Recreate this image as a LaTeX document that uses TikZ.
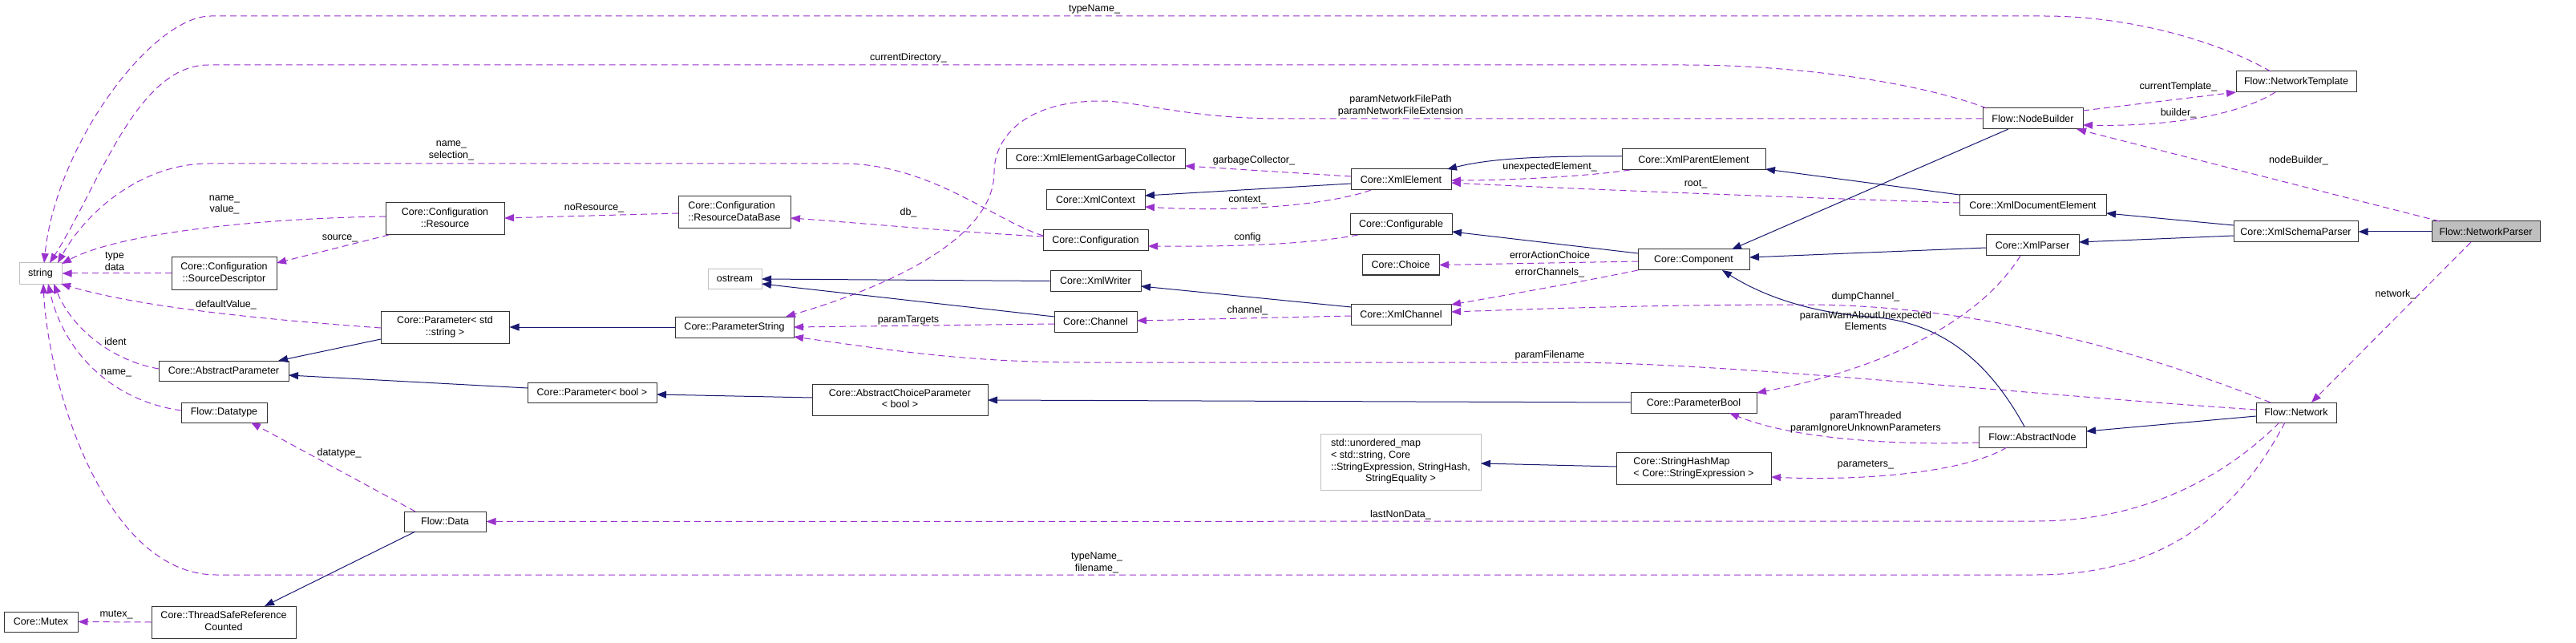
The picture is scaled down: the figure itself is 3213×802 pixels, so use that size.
\documentclass[tikz,border=0pt]{standalone}
\usepackage{fontspec}
\setmainfont{Liberation Sans}
\usetikzlibrary{arrows.meta,calc}
\definecolor{dorch}{HTML}{9A32CD}
\definecolor{mblue}{HTML}{191970}
\definecolor{extgray}{HTML}{BFBFBF}
\newcommand{\fsz}{\fontsize{12.5}{14.7}\selectfont}
\newcommand{\twol}[2]{\begin{tabular}{@{}l@{}}#1\\\multicolumn{1}{@{}c@{}}{#2}\end{tabular}}
\newcommand{\fourl}[4]{\begin{tabular}{@{}l@{}}#1\\#2\\#3\\\multicolumn{1}{@{}c@{}}{#4}\end{tabular}}
\begin{document}
\begin{tikzpicture}[x=1pt,y=-1pt,
  cls/.style={draw=black!80, line width=1pt, fill=white, inner sep=0pt, font=\fsz, text=black},
  ext/.style={cls, draw=extgray},
  lbl/.style={font=\fsz, align=center, inner sep=0pt, text=black},
  dep/.style={draw=dorch, line width=1pt, dash pattern=on 8pt off 5pt, -{Triangle[length=12pt,width=9pt]}},
  inh/.style={draw=mblue, line width=1pt, -{Triangle[length=12pt,width=9pt]}}]
\path[use as bounding box] (0,0) rectangle (3213,802);

% nodes
\node[ext, minimum width=53pt, minimum height=26pt] (string) at (50.5,341) {string};
\node[cls, minimum width=131pt, minimum height=40pt] (srcdesc) at (279.5,341) {\twol{Core::Configuration}{::SourceDescriptor}};
\node[cls, minimum width=148pt, minimum height=40pt] (resource) at (555,273) {\twol{Core::Configuration}{::Resource}};
\node[cls, minimum width=140pt, minimum height=40pt] (resdb) at (916,265) {\twol{Core::Configuration}{::ResourceDataBase}};
\node[ext, minimum width=67pt, minimum height=25pt] (ostream) at (916.5,348) {ostream};
\node[cls, minimum width=160pt, minimum height=40pt] (pstd) at (555,408) {\twol{Core::Parameter< std}{::string >}};
\node[cls, minimum width=148pt, minimum height=26pt] (pstring) at (916,408) {Core::ParameterString};
\node[cls, minimum width=162pt, minimum height=25pt] (absparam) at (279,462.5) {Core::AbstractParameter};
\node[cls, minimum width=161pt, minimum height=25pt] (pbooltpl) at (738.5,489.5) {Core::Parameter< bool >};
\node[cls, minimum width=219pt, minimum height=39pt] (abschoice) at (1122.5,498.5) {\twol{Core::AbstractChoiceParameter}{< bool >}};
\node[cls, minimum width=107pt, minimum height=25pt] (datatype) at (279.5,514.5) {Flow::Datatype};
\node[cls, minimum width=102pt, minimum height=25pt] (data) at (555,650.5) {Flow::Data};
\node[cls, minimum width=180pt, minimum height=40pt] (tsrc) at (279,776) {\twol{Core::ThreadSafeReference}{Counted}};
\node[cls, minimum width=92pt, minimum height=25pt] (mutex) at (51,775.5) {Core::Mutex};
\node[cls, minimum width=223pt, minimum height=25pt] (xgc) at (1366.5,198.5) {Core::XmlElementGarbageCollector};
\node[cls, minimum width=123pt, minimum height=25pt] (xctx) at (1366.5,249.5) {Core::XmlContext};
\node[cls, minimum width=131pt, minimum height=26pt] (config) at (1366.5,300) {Core::Configuration};
\node[cls, minimum width=113pt, minimum height=25pt] (xwriter) at (1366.5,350.5) {Core::XmlWriter};
\node[cls, minimum width=103pt, minimum height=26pt] (channel) at (1366.5,401) {Core::Channel};
\node[cls, minimum width=125pt, minimum height=26pt] (xelem) at (1747.5,224) {Core::XmlElement};
\node[cls, minimum width=127pt, minimum height=26pt] (configurable) at (1747.5,280) {Core::Configurable};
\node[cls, minimum width=96pt, minimum height=25pt] (choice) at (1747,330.5) {Core::Choice};
\node[cls, minimum width=125pt, minimum height=26pt] (xchannel) at (1747.5,392) {Core::XmlChannel};
\node[cls, minimum width=179pt, minimum height=26pt] (xparent) at (2112.5,199) {Core::XmlParentElement};
\node[cls, minimum width=139pt, minimum height=26pt] (component) at (2112.5,324) {Core::Component};
\node[cls, minimum width=157pt, minimum height=26pt] (parambool) at (2112.5,502) {Core::ParameterBool};
\node[ext, minimum width=200pt, minimum height=70pt] (umap) at (1747,576) {\fourl{std::unordered\_map}{< std::string, Core}{::StringExpression, StringHash,}{StringEquality >}};
\node[cls, minimum width=193pt, minimum height=40pt] (shm) at (2112.5,584) {\twol{Core::StringHashMap}{< Core::StringExpression >}};
\node[cls, minimum width=125pt, minimum height=26pt] (nodebuilder) at (2535.5,148) {Flow::NodeBuilder};
\node[cls, minimum width=183pt, minimum height=26pt] (xdoc) at (2535.5,256) {Core::XmlDocumentElement};
\node[cls, minimum width=116pt, minimum height=26pt] (xparser) at (2535,306) {Core::XmlParser};
\node[cls, minimum width=134pt, minimum height=26pt] (absnode) at (2535,545) {Flow::AbstractNode};
\node[cls, minimum width=150pt, minimum height=26pt] (ntemplate) at (2864,102) {Flow::NetworkTemplate};
\node[cls, minimum width=155pt, minimum height=26pt] (xschema) at (2863.5,289) {Core::XmlSchemaParser};
\node[cls, fill=extgray, minimum width=135pt, minimum height=26pt] (nparser) at (3100.5,289) {Flow::NetworkParser};
\node[cls, minimum width=100pt, minimum height=25pt] (network) at (2864,514.5) {Flow::Network};

% dependency edges
\draw[dep] ($(ntemplate)+(-32,-13)$) .. controls (2760,48) and (2650,20) .. (2550,20) -- (263,20) .. controls (190,20) and (70,180) .. ($(string)+(4.5,-13)$);
\draw[dep] ($(nodebuilder)+(-57.5,-13)$) .. controls (2400,105) and (2250,81) .. (2100,81) -- (260,81) .. controls (170,81) and (123,233) .. ($(string)+(11.5,-13)$);
\draw[dep] ($(config)+(-65.5,-6)$) .. controls (1240,275) and (1160,204) .. (1050,204) -- (260,204) .. controls (180,204) and (110,260) .. ($(string)+(21.5,-13)$);
\draw[dep] ($(resource)+(-74,-3)$) .. controls (330,272) and (150,290) .. ($(string)+(26.5,-12)$);
\draw[dep] ($(resource)+(-70,20)$) -- ($(srcdesc)+(65.5,-13)$);
\draw[dep] (srcdesc.west) -- (string.east);
\draw[dep] ($(pstd)+(-80,1)$) .. controls (350,400) and (180,385) .. ($(string)+(25.5,13)$);
\draw[dep] ($(absparam)+(-81,-2.5)$) .. controls (140,450) and (90,410) .. ($(string)+(16.5,13)$);
\draw[dep] ($(datatype)+(-53.5,-2.5)$) .. controls (140,500) and (80,440) .. ($(string)+(9.5,13)$);
\draw[dep] ($(network)+(-14,12.5)$) .. controls (2790,640) and (2700,717) .. (2540,717) -- (270,717) .. controls (130,717) and (60,480) .. ($(string)+(3.5,13)$);
\draw[dep] ($(resdb)+(-70,1)$) -- ($(resource)+(74,-1)$);
\draw[dep] ($(config)+(-65.5,-5)$) .. controls (1200,290) and (1060,277) .. ($(resdb)+(70,7)$);
\draw[dep] ($(configurable)+(-53.5,13)$) .. controls (1640,303) and (1560,308) .. ($(config)+(65.5,7)$);
\draw[dep] ($(xelem)+(-62.5,-4)$) -- ($(xgc)+(111.5,8.5)$);
\draw[dep] ($(xelem)+(-37.5,13)$) .. controls (1660,255) and (1550,265) .. ($(xctx)+(61.5,8.5)$);
\draw[dep] ($(xchannel)+(-62.5,2)$) -- ($(channel)+(51.5,-1)$);
\draw[dep] ($(channel)+(-51.5,3)$) -- ($(pstring)+(74,0)$);
\draw[dep] (nodebuilder.west) -- (1600,148) .. controls (1480,148) and (1420,126) .. (1373,126) .. controls (1280,126) and (1240,170) .. (1240,215) .. controls (1240,300) and (1100,360) .. ($(pstring)+(64,-13)$);
\draw[dep] ($(network)+(-50,-3.5)$) .. controls (2500,490) and (2150,452) .. (1950,452) -- (1350,452) .. controls (1200,452) and (1100,435) .. ($(pstring)+(74,12)$);
\draw[dep] ($(network)+(-32,-12.5)$) .. controls (2650,430) and (2450,380) .. (2250,380) .. controls (2050,380) and (1900,386) .. ($(xchannel)+(62.5,-3)$);
\draw[dep] ($(component)+(-69.5,13)$) .. controls (1980,350) and (1880,368) .. ($(xchannel)+(62.5,-12)$);
\draw[dep] ($(component)+(-69.5,2)$) -- ($(choice)+(48,0)$);
\draw[dep] ($(xparent)+(-79.5,13)$) .. controls (1980,220) and (1880,225) .. ($(xelem)+(62.5,1)$);
\draw[dep] ($(xdoc)+(-91.5,-3)$) .. controls (2200,245) and (1950,235) .. ($(xelem)+(62.5,4)$);
\draw[dep] ($(nodebuilder)+(62.5,-10)$) -- ($(ntemplate)+(-75,13)$);
\draw[dep] ($(ntemplate)+(-26,13)$) .. controls (2790,145) and (2700,158) .. ($(nodebuilder)+(62.5,8)$);
\draw[dep] ($(nparser)+(-57.5,-13)$) -- ($(nodebuilder)+(54.5,13)$);
\draw[dep] ($(nparser)+(-18.5,13)$) -- ($(network)+(19,-12.5)$);
\draw[dep] ($(xparser)+(-15,13)$) .. controls (2470,400) and (2350,460) .. ($(parambool)+(78.5,-12)$);
\draw[dep] ($(absnode)+(-67,7)$) .. controls (2350,556) and (2230,545) .. ($(parambool)+(44.5,13)$);
\draw[dep] ($(absnode)+(-32,13)$) .. controls (2450,590) and (2320,600) .. ($(shm)+(96.5,11)$);
\draw[dep] ($(network)+(-21,12.5)$) .. controls (2780,590) and (2680,650) .. (2540,650) -- (data.east);
\draw[dep] ($(data)+(-37,-12.5)$) -- ($(datatype)+(33.5,12.5)$);
\draw[dep] (tsrc.west) -- (mutex.east);

% inheritance edges
\draw[inh] ($(pstd)+(-80,15)$) -- ($(absparam)+(68,-12.5)$);
\draw[inh] ($(pbooltpl)+(-80.5,-5.5)$) -- ($(absparam)+(81,5.5)$);
\draw[inh] (pstring.west) -- (pstd.east);
\draw[inh] ($(abschoice)+(-109.5,-2.5)$) -- ($(pbooltpl)+(80.5,2.5)$);
\draw[inh] (parambool.west) -- ($(abschoice)+(109.5,0.5)$);
\draw[inh] ($(data)+(-37,12.5)$) -- ($(tsrc)+(51,-20)$);
\draw[inh] (xwriter.west) -- ($(ostream)+(33.5,0)$);
\draw[inh] ($(channel)+(-51.5,-6)$) -- ($(ostream)+(33.5,6)$);
\draw[inh] ($(xchannel)+(-62.5,-9)$) -- ($(xwriter)+(56.5,6.5)$);
\draw[inh] ($(xelem)+(-62.5,5)$) -- ($(xctx)+(61.5,-5.5)$);
\draw[inh] ($(xparent)+(-89.5,-4)$) .. controls (1900,194) and (1850,200) .. ($(xelem)+(57.5,-13)$);
\draw[inh] ($(xdoc)+(-91.5,-13)$) -- ($(xparent)+(89.5,12)$);
\draw[inh] ($(component)+(-69.5,-8)$) -- ($(configurable)+(63.5,9)$);
\draw[inh] ($(nodebuilder)+(-30.5,13)$) -- ($(component)+(47.5,-13)$);
\draw[inh] ($(xparser)+(-58,3)$) -- ($(component)+(69.5,-3)$);
\draw[inh] ($(absnode)+(-10,-13)$) .. controls (2480,450) and (2420,400) .. (2330,395) .. controls (2260,390) and (2200,370) .. ($(component)+(35.5,13)$);
\draw[inh] ($(xschema)+(-77.5,-8)$) -- ($(xdoc)+(91.5,10)$);
\draw[inh] ($(xschema)+(-77.5,5)$) -- ($(xparser)+(58,-4)$);
\draw[inh] (nparser.west) -- (xschema.east);
\draw[inh] ($(network)+(-50,4.5)$) -- ($(absnode)+(67,-7)$);
\draw[inh] ($(shm)+(-96.5,-2)$) -- ($(umap)+(100,2)$);

% labels
\node[lbl] (l1) at (1365,12) {typeName\_};
\node[lbl] (l2) at (1133,72) {currentDirectory\_};
\node[lbl] (l3) at (563,188) {name\_\\selection\_};
\node[lbl] (l4) at (1747,132) {paramNetworkFilePath\\paramNetworkFileExtension};
\node[lbl] (l5) at (280,255.5) {name\_\\value\_};
\node[lbl] (l6) at (424,297) {source\_};
\node[lbl] (l7) at (143,326) {type\\data};
\node[lbl] (l8) at (741,259) {noResource\_};
\node[lbl] (l9) at (1133,265) {db\_};
\node[lbl] (l10) at (1564,200) {garbageCollector\_};
\node[lbl] (l11) at (1556,250) {context\_};
\node[lbl] (l12) at (1556,296) {config};
\node[lbl] (l13) at (1556,387) {channel\_};
\node[lbl] (l14) at (1133,399) {paramTargets};
\node[lbl] (l15) at (282,380) {defaultValue\_};
\node[lbl] (l16) at (144,426) {ident};
\node[lbl] (l17) at (145,465) {name\_};
\node[lbl] (l18) at (423,565) {datatype\_};
\node[lbl] (l19) at (145,767) {mutex\_};
\node[lbl] (l20) at (1368,702) {typeName\_\\filename\_};
\node[lbl] (l21) at (1747,642) {lastNonData\_};
\node[lbl] (l22) at (1933,443) {paramFilename};
\node[lbl] (l23) at (1933,208) {unexpectedElement\_};
\node[lbl] (l24) at (2115,230) {root\_};
\node[lbl] (l25) at (1933,318) {errorActionChoice};
\node[lbl] (l26) at (1933,340) {errorChannels\_};
\node[lbl] (l27) at (2327,370) {dumpChannel\_};
\node[lbl] (l28) at (2327,400) {paramWarnAboutUnexpected\\Elements};
\node[lbl] (l29) at (2327,527) {paramThreaded\\paramIgnoreUnknownParameters};
\node[lbl] (l30) at (2327,580) {parameters\_};
\node[lbl] (l31) at (2717,108) {currentTemplate\_};
\node[lbl] (l32) at (2717,141) {builder\_};
\node[lbl] (l33) at (2867,200) {nodeBuilder\_};
\node[lbl] (l34) at (2988,367) {network\_};
\end{tikzpicture}
\end{document}
